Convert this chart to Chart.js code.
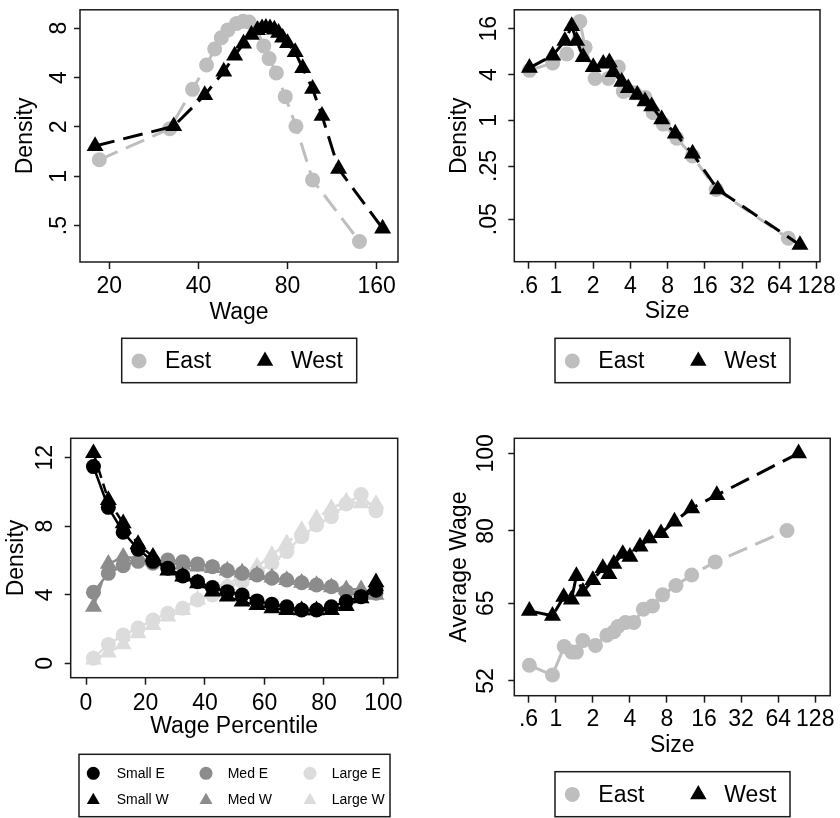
<!DOCTYPE html>
<html>
<head>
<meta charset="utf-8">
<script src="https://cdn.jsdelivr.net/npm/chart.js@4.4.1/dist/chart.umd.min.js"></script>
<style>
  body { margin: 0; background: #fff; }
  #wrap { position: relative; width: 840px; height: 818px; }
  canvas { position: absolute; }
</style>
</head>
<body>
<div id="wrap">
  <canvas id="c1" width="420" height="409" style="left:0;top:0"></canvas>
  <canvas id="c2" width="420" height="409" style="left:420px;top:0"></canvas>
  <canvas id="c3" width="420" height="409" style="left:0;top:409px"></canvas>
  <canvas id="c4" width="420" height="409" style="left:420px;top:409px"></canvas>
</div>
<script>
// panel 1: wage density, log-log
const wageEast = [18.5, 32, 38.2, 42.6, 45.4, 47.8, 50.3, 53.8, 56.6, 59.3, 62.8, 66.5, 69.3, 73.3, 78.6, 85.4, 97.2, 140];
const wageEastDens = [1.26, 1.95, 3.39, 4.77, 5.97, 6.99, 7.81, 8.54, 8.81, 8.72, 7.99, 6.24, 5.22, 4.27, 3.06, 2.02, 0.95, 0.40];
const wageWest = [17.9, 33, 42, 48.7, 53, 56.8, 60.4, 63.3, 65.6, 67.6, 69.8, 72.2, 74.6, 77, 80, 84.9, 90, 97.2, 104.6, 119, 167.6];
const wageWestDens = [1.53, 2.02, 3.13, 4.35, 5.45, 6.45, 7.3, 7.8, 8.0, 8.05, 8.0, 7.85, 7.5, 7.0, 6.5, 5.72, 4.57, 3.41, 2.34, 1.11, 0.48];
const wageTicks = [20, 40, 80, 160];
const wageTickLabels = ['20', '40', '80', '160'];
const wageDensTicks = [0.5, 1, 2, 4, 8];
const wageDensLabels = ['.5', '1', '2', '4', '8'];

// panel 2: size density, log-log
const sizeEast = [0.61, 0.94, 1.22, 1.56, 1.72, 2.07, 2.65, 3.19, 3.5, 4.3, 5.24, 6.1, 7.37, 9.46, 12.7, 19.7, 75.5];
const sizeEastDens = [4.54, 5.66, 7.46, 20, 9.1, 3.55, 3.55, 5.02, 2.39, 2.3, 2.0, 1.26, 0.89, 0.58, 0.34, 0.123, 0.028];
const sizeWest = [0.61, 0.94, 1.18, 1.34, 1.47, 1.66, 2.0, 2.41, 2.7, 2.9, 3.4, 3.84, 4.54, 5.24, 5.94, 7.15, 9.2, 12.7, 20.3, 93.7];
const sizeWestDens = [4.9, 7.1, 11.1, 17.3, 11.1, 6.8, 5.0, 5.55, 5.8, 4.3, 3.2, 2.64, 2.16, 1.78, 1.53, 1.03, 0.67, 0.365, 0.123, 0.0229];
const sizeTicks = [0.6, 1, 2, 4, 8, 16, 32, 64, 128];
const sizeTickLabels = ['.6', '1', '2', '4', '8', '16', '32', '64', '128'];
const sizeDensTicks = [0.05, 0.25, 1, 4, 16];
const sizeDensLabels = ['.05', '.25', '1', '4', '16'];

// panel 3: density by wage percentile
const pctl = [2.5, 7.5, 12.5, 17.5, 22.5, 27.5, 32.5, 37.5, 42.5, 47.5, 52.5, 57.5, 62.5, 67.5, 72.5, 77.5, 82.5, 87.5, 92.5, 97.5];
const smallE = [11.48, 9.1, 7.65, 6.66, 5.95, 5.55, 5.1, 4.76, 4.42, 4.18, 3.99, 3.64, 3.44, 3.3, 3.11, 3.11, 3.3, 3.6, 3.89, 4.26];
const smallW = [12.26, 9.53, 8.17, 6.96, 6.22, 5.41, 5.06, 4.67, 4.18, 3.89, 3.6, 3.4, 3.21, 3.11, 3.09, 3.09, 3.11, 3.34, 3.79, 4.72];
const medE = [4.15, 5.25, 5.7, 5.95, 5.84, 6.03, 5.93, 5.8, 5.64, 5.41, 5.25, 5.15, 4.96, 4.86, 4.7, 4.57, 4.47, 4.18, 3.99, 4.09];
const medW = [3.3, 5.8, 6.22, 6.13, 5.99, 5.87, 5.74, 5.64, 5.55, 5.41, 5.29, 5.15, 5.0, 4.86, 4.7, 4.57, 4.43, 4.32, 4.32, 3.99];
const largeE = [0.3, 1.1, 1.65, 2.06, 2.53, 2.92, 3.21, 3.7, 3.99, 4.47, 4.76, 5.29, 5.84, 6.52, 7.39, 8.07, 8.56, 9.3, 9.85, 8.9];
const largeW = [0.22, 0.62, 1.1, 1.75, 2.23, 2.72, 3.11, 3.7, 4.09, 4.57, 5.15, 5.64, 6.32, 7.0, 7.78, 8.46, 9.05, 9.44, 9.34, 9.3];
const pctlTicks = [0, 20, 40, 60, 80, 100];
const pctlTickLabels = ['0', '20', '40', '60', '80', '100'];
const pctlDensTicks = [0, 4, 8, 12];
const pctlDensLabels = ['0', '4', '8', '12'];

// panel 4: average wage by size
const avgEastSize = [0.61, 0.94, 1.17, 1.35, 1.47, 1.66, 2.1, 2.6, 2.96, 3.2, 3.68, 4.3, 5.14, 6.1, 7.37, 9.46, 12.7, 19.7, 75.5];
const avgEastWage = [54.4, 52.9, 57.4, 56.5, 56.5, 58.4, 57.6, 59.3, 59.9, 60.8, 61.5, 61.5, 63.9, 64.5, 66.6, 68.4, 70.5, 73.2, 80.1];
const avgWestSize = [0.61, 0.94, 1.16, 1.34, 1.47, 1.66, 2.0, 2.41, 2.7, 2.96, 3.5, 4.0, 4.83, 5.74, 7.15, 9.2, 12.7, 20.3, 93.7];
const avgWestWage = [63.6, 62.7, 66.2, 65.7, 70.3, 67.2, 69.5, 71.9, 70.7, 72.8, 74.9, 74.3, 76.5, 78.3, 79.5, 82.2, 85.4, 88.7, 100];
const avgWageTicks = [52, 65, 80, 100];
const avgWageLabels = ['52', '65', '80', '100'];

const FONT = '"Liberation Sans", Arial, Helvetica, sans-serif';
const INK = '#1a1a1a';
const pts = (xs, ys) => xs.map((x, i) => ({ x: x, y: ys[i] }));

// box around the plot region
const frame = {
  id: 'frame',
  afterDraw(chart) {
    const { ctx, chartArea: a } = chart;
    ctx.save();
    ctx.strokeStyle = INK;
    ctx.lineWidth = 1.5;
    ctx.strokeRect(a.left, a.top, a.right - a.left, a.bottom - a.top);
    ctx.restore();
  }
};

// boxed legend, one slot per dataset: [markerX, markerY, textX, textY]
const boxLegend = {
  id: 'boxLegend',
  afterDraw(chart, args, o) {
    if (!o || !o.slots) return;
    const ctx = chart.ctx;
    ctx.save();
    ctx.strokeStyle = INK;
    ctx.lineWidth = 1.5;
    ctx.strokeRect(o.x, o.y, o.w, o.h);
    ctx.font = o.size + 'px ' + FONT;
    ctx.textBaseline = 'middle';
    ctx.textAlign = 'left';
    chart.data.datasets.forEach((ds, i) => {
      const s = o.slots[i];
      const mx = o.x + s[0], my = o.y + s[1];
      ctx.fillStyle = ds.backgroundColor;
      ctx.beginPath();
      if (ds.pointStyle === 'triangle') {
        const r = o.tri;
        ctx.moveTo(mx, my - r);
        ctx.lineTo(mx + r * 0.866, my + r / 2);
        ctx.lineTo(mx - r * 0.866, my + r / 2);
        ctx.closePath();
      } else {
        ctx.arc(mx, my, o.dot, 0, Math.PI * 2);
      }
      ctx.fill();
      ctx.fillStyle = '#000';
      ctx.fillText(ds.label, o.x + s[2], o.y + s[3]);
    });
    ctx.restore();
  }
};

function xAxis(type, min, max, ticks, labels, title, pad, tpad) {
  return {
    type: type, min: min, max: max, position: 'bottom',
    afterBuildTicks: s => { s.ticks = ticks.map(v => ({ value: v })); },
    afterFit: s => { s.height = 64; s.paddingLeft = 0; s.paddingRight = 0; },
    ticks: {
      autoSkip: false, minRotation: 0, maxRotation: 0, padding: pad, color: '#000',
      font: { family: FONT, size: 23 },
      callback: (v, i) => labels[i]
    },
    grid: { drawOnChartArea: false, drawTicks: true, tickLength: 7, tickWidth: 1.5, tickColor: INK },
    border: { display: false },
    title: { display: true, text: title, color: '#000', font: { family: FONT, size: 23 }, padding: { top: 0, bottom: tpad } }
  };
}

function yAxis(type, min, max, ticks, labels, title, width, pad, tpad) {
  return {
    type: type, min: min, max: max, position: 'left',
    afterBuildTicks: s => { s.ticks = ticks.map(v => ({ value: v })); },
    afterFit: s => { s.width = width; s.paddingTop = 0; s.paddingBottom = 0; },
    ticks: {
      autoSkip: false, minRotation: 90, maxRotation: 90, crossAlign: 'center', padding: pad, color: '#000',
      font: { family: FONT, size: 23 },
      callback: (v, i) => labels[i]
    },
    grid: { drawOnChartArea: false, drawTicks: true, tickLength: 6, tickWidth: 1.5, tickColor: INK },
    border: { display: false },
    title: { display: true, text: title, color: '#000', font: { family: FONT, size: 23 }, padding: { top: tpad, bottom: 0 } }
  };
}

function series(label, data, color, shape, dash, order, width) {
  return {
    label: label, data: data, showLine: true, order: order,
    borderColor: color, backgroundColor: color, borderWidth: width || 3, borderDash: dash,
    pointStyle: shape, pointRadius: shape === 'triangle' ? 9.8 : 7.5, pointBorderWidth: 0,
    pointBackgroundColor: color, tension: 0, clip: false
  };
}

function baseOptions(padding, scales, legend) {
  return {
    responsive: false, animation: false, events: [],
    layout: { padding: padding },
    scales: scales,
    plugins: { legend: { display: false }, tooltip: { enabled: false }, boxLegend: legend }
  };
}

const GRAY = '#bebebe';
const twoSlots = [[17.3, 22.7, 43.3, 23.5], [143.3, 22.7, 169.3, 23.5]];

new Chart(document.getElementById('c1'), {
  type: 'scatter',
  data: { datasets: [
    series('East', pts(wageEast, wageEastDens), GRAY, 'circle', [20, 9], 1),
    series('West', pts(wageWest, wageWestDens), '#000', 'triangle', [20, 9], 0)
  ] },
  options: baseOptions({ left: 0, top: 4, right: 22, bottom: 83 }, {
    x: xAxis('logarithmic', 15.92, 188.9, wageTicks, wageTickLabels, 'Wage', 4.2, 0),
    y: yAxis('logarithmic', 0.3254, 10.36, wageDensTicks, wageDensLabels, 'Density', 80, 5.2, 12.3)
  }, { x: 121.7, y: 338.3, w: 235, h: 44.4, size: 23, dot: 7.5, tri: 9.5, slots: twoSlots }),
  plugins: [frame, boxLegend]
});

new Chart(document.getElementById('c2'), {
  type: 'scatter',
  data: { datasets: [
    series('East', pts(sizeEast, sizeEastDens), GRAY, 'circle', [18, 9], 1),
    series('West', pts(sizeWest, sizeWestDens), '#000', 'triangle', [18, 9], 0)
  ] },
  options: baseOptions({ left: 0, top: 4.7, right: 20, bottom: 83.3 }, {
    x: xAxis('logarithmic', 0.4603, 136.1, sizeTicks, sizeTickLabels, 'Size', 4.5, 0),
    y: yAxis('logarithmic', 0.01378, 28.4, sizeDensTicks, sizeDensLabels, 'Density', 94.3, 3.1, 25.7)
  }, { x: 135, y: 338.3, w: 235, h: 44.4, size: 23, dot: 7.5, tri: 9.5, slots: twoSlots }),
  plugins: [frame, boxLegend]
});

const MED = '#8c8c8c', LIGHT = '#dcdcdc';
new Chart(document.getElementById('c3'), {
  type: 'scatter',
  data: { datasets: [
    series('Small E', pts(pctl, smallE), '#000', 'circle', [], 0, 2.5),
    series('Small W', pts(pctl, smallW), '#000', 'triangle', [10, 6], 0, 2.5),
    series('Med E', pts(pctl, medE), MED, 'circle', [], 0, 2.5),
    series('Med W', pts(pctl, medW), MED, 'triangle', [10, 6], 0, 2.5),
    series('Large E', pts(pctl, largeE), LIGHT, 'circle', [], 0, 2.5),
    series('Large W', pts(pctl, largeW), LIGHT, 'triangle', [10, 6], 0, 2.5)
  ] },
  options: baseOptions({ left: 0, top: 29.3, right: 22.3, bottom: 76.3 }, {
    x: xAxis('linear', -5.15, 104.8, pctlTicks, pctlTickLabels, 'Wage Percentile', 5.2, 0.9),
    y: yAxis('linear', -0.84, 13.13, pctlDensTicks, pctlDensLabels, 'Density', 70.7, 6.4, 3.2)
  }, { x: 79, y: 345.3, w: 311, h: 62.4, size: 14, dot: 6.5, tri: 7.5, slots: [
    [14.3, 19, 37.7, 20.2], [14.3, 46, 37.7, 45.9],
    [127, 19, 148.7, 20.2], [127, 46, 148.7, 45.9],
    [231, 19, 252.7, 20.2], [231, 46, 252.7, 45.9]
  ] }),
  plugins: [frame, boxLegend]
});

new Chart(document.getElementById('c4'), {
  type: 'scatter',
  data: { datasets: [
    series('East', pts(avgEastSize, avgEastWage), GRAY, 'circle', [20, 9], 1),
    series('West', pts(avgWestSize, avgWestWage), '#000', 'triangle', [20, 9], 0)
  ] },
  options: baseOptions({ left: 0, top: 29.3, right: 8.3, bottom: 58.3 }, {
    x: xAxis('logarithmic', 0.4603, 169.3, sizeTicks, sizeTickLabels, 'Size', 2.8, 0.6),
    y: yAxis('logarithmic', 49.85, 104.4, avgWageTicks, avgWageLabels, 'Average Wage', 94.3, 2.4, 25.7)
  }, { x: 135, y: 362.7, w: 235, h: 45, size: 23, dot: 7.5, tri: 9.5, slots: twoSlots }),
  plugins: [frame, boxLegend]
});
</script>
</body>
</html>
